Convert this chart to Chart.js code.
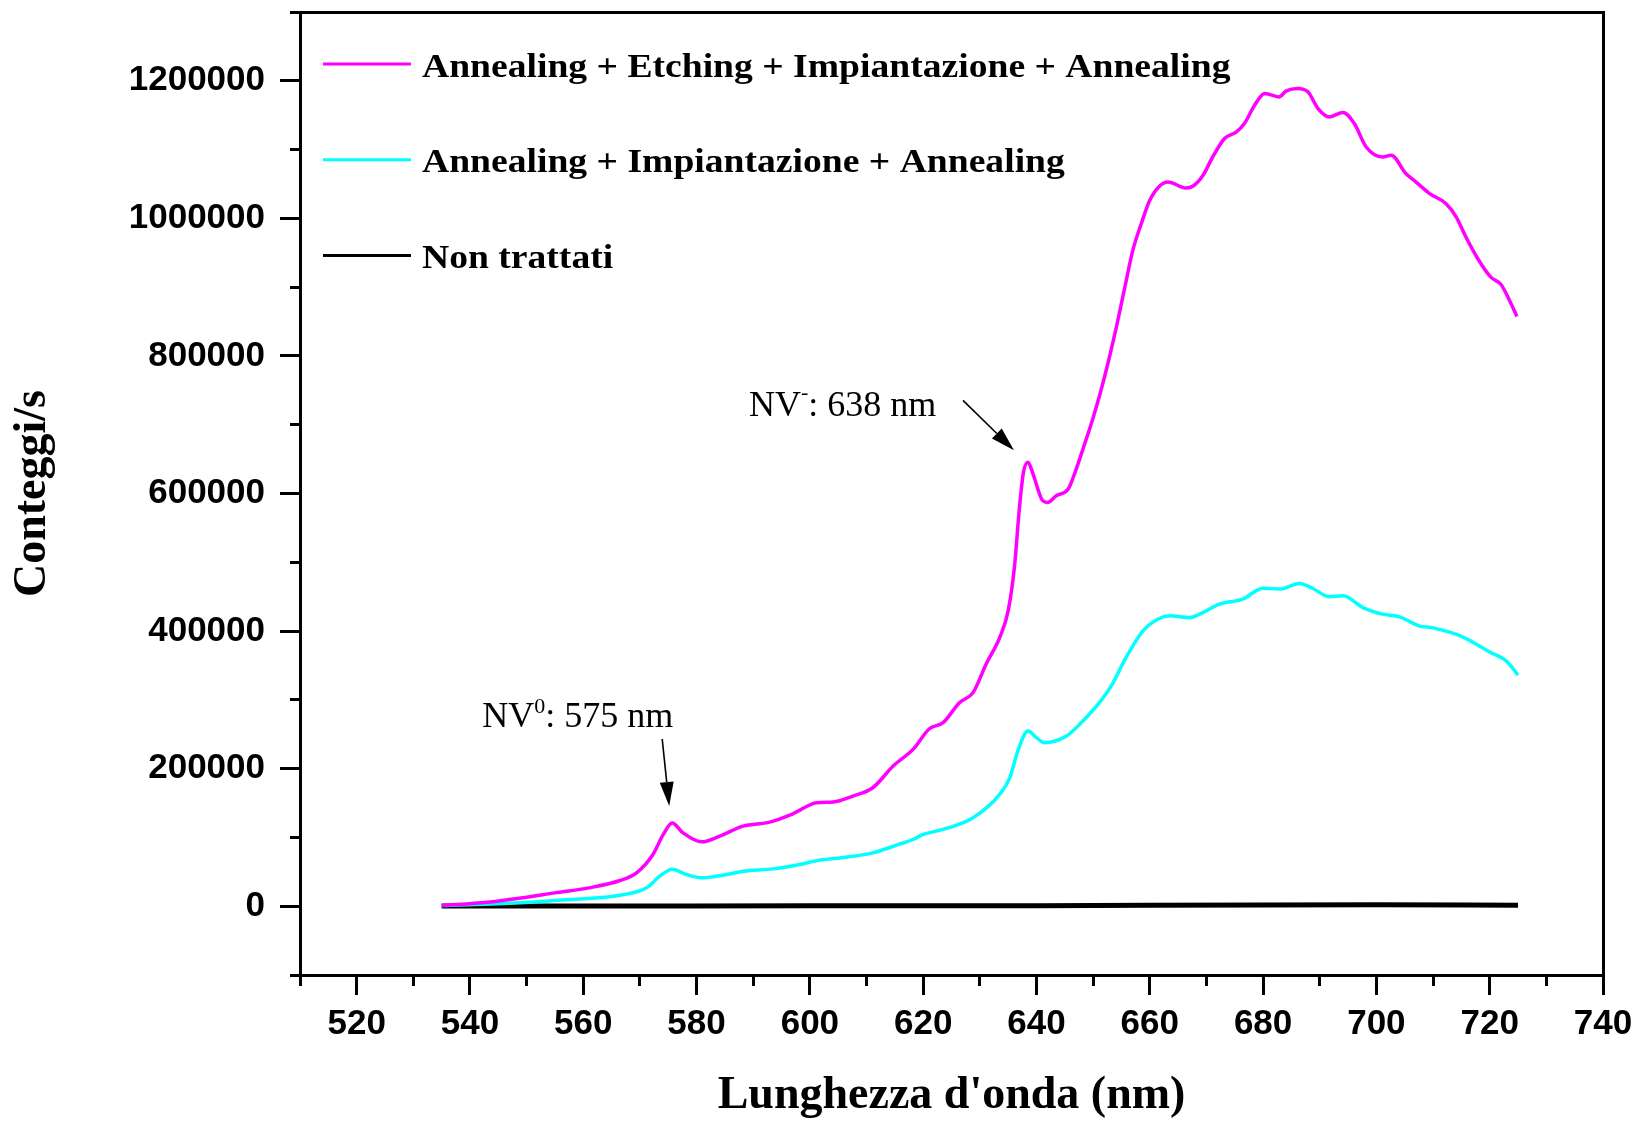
<!DOCTYPE html>
<html>
<head>
<meta charset="utf-8">
<title>Spettro NV</title>
<script src="https://cdn.jsdelivr.net/npm/chart.js@4.4.1/dist/chart.umd.min.js"></script>
<style>
  html, body { margin: 0; padding: 0; background: #fff; }
  canvas { display: block; }
</style>
</head>
<body>
<canvas id="spettro" width="1638" height="1121"></canvas>
<script>
// valori: lunghezza d'onda (nm) -> conteggi/s
var wlEtching = [535, 543, 549, 555, 561, 566.5, 569.4, 572.3, 574.1, 575.7, 577.6, 580.9, 584.1, 588.2,
  592.9, 597, 601.2, 604.1, 607.6, 611.1, 614.7, 618.2, 621.1, 623.5, 626.4, 628.8, 631.1, 633.5, 635,
  636.1, 637, 637.7, 638.5, 639.4, 640.9, 641.9, 643.5, 645.6, 646.7, 648.5, 650, 652, 654.1, 655.6, 657,
  658.5, 660, 661.7, 663.2, 666.4, 667.6, 669.4, 671.1, 673.2, 675.3, 676.7, 678.5, 680.3, 682.8, 684.1,
  686.1, 687.9, 689.7, 691.7, 694.1, 696.1, 698.2, 701.1, 702.6, 705.2, 707, 709.4, 712.3, 714.1, 715.8,
  717.9, 720.2, 722, 723.5, 724.8];
var cntEtching = [1000, 5800, 12000, 19400, 26700, 37400, 48500, 75200, 104000, 121000, 106700, 93600, 101900, 116400,
  122300, 134400, 150400, 151400, 160100, 172200, 203800, 228000, 258000, 266800, 295900, 310500, 351800, 390500, 429400,
  492400, 579800, 630700, 645300, 628300, 592000, 587000, 596800, 606500, 628300, 672000, 710000, 769000, 841800, 900000, 953400,
  992300, 1026200, 1046600, 1052800, 1044100, 1046600, 1062600, 1089200, 1116000, 1125600, 1137800, 1164500, 1181500, 1176600, 1185300,
  1188800, 1183900, 1159700, 1147500, 1153900, 1137800, 1103800, 1089200, 1091700, 1065100, 1052800, 1035900, 1021400, 1001900, 972800,
  941300, 914500, 903900, 880600, 857300];

var wlImpiant = [535, 548.8, 557.6, 566.5, 571.2, 573.5, 575.7, 578.2, 580.9, 585.3, 588.2, 593.5, 598.2, 601.7,
  606.4, 611.1, 615.9, 618.2, 620, 623.5, 628.8, 633.5, 635.3, 636.7, 638.5, 640, 641.4, 645.3, 647.9, 651.1,
  653.2, 655.8, 658.8, 661.4, 663.5, 667, 668.8, 672.3, 676.4, 680, 682.9, 686.4, 688.8, 691.7, 694.1, 697.6,
  701.1, 704.1, 707.5, 710, 715, 720, 723, 725];
var cntImpiant = [1000, 4900, 9700, 16000, 26700, 43700, 53900, 46100, 41200, 46100, 50900, 54300, 60700, 67000,
  71300, 77600, 90500, 97000, 104400, 111600, 128600, 162600, 186800, 225600, 254700, 245000, 237700, 247500, 266800, 295900,
  320200, 361400, 400300, 417300, 422100, 419700, 424600, 439200, 446400, 462400, 461000, 469100, 461900, 449800, 451200, 434200,
  424600, 420700, 407600, 404600, 392400, 369600, 355900, 336100];

var wlNonTratt = [535, 560, 600, 640, 660, 700, 725];
var cntNonTratt = [200, 300, 500, 800, 1500, 2000, 1500];

var seriesLabels = [
  'Annealing + Etching + Impiantazione + Annealing',
  'Annealing + Impiantazione + Annealing',
  'Non trattati'
];
var seriesColors = ['#ff00ff', '#00ffff', '#000000'];

var xTickLabels = [520, 540, 560, 580, 600, 620, 640, 660, 680, 700, 720, 740];
var yTickLabels = [0, 200000, 400000, 600000, 800000, 1000000, 1200000];

// picchi indicati dalle frecce
var picchi = [
  { x: 575.7, y: 121000, apice: '0', resto: ': 575 nm', testo: [-190, -96], coda: [-10, -84], punta: [-3, -17] },
  { x: 638.5, y: 645300, apice: '-', resto: ': 638 nm', testo: [-279, -46], coda: [-65, -62], punta: [-14, -12] }
];

function coppie(xs, ys) {
  return xs.map(function(x, i) { return { x: x, y: ys[i] }; });
}

function freccia(ctx, x1, y1, x2, y2) {
  var a = Math.atan2(y2 - y1, x2 - x1);
  var len = 24, half = 7;
  var bx = x2 - len * Math.cos(a), by = y2 - len * Math.sin(a);
  ctx.beginPath();
  ctx.moveTo(x1, y1);
  ctx.lineTo(bx, by);
  ctx.stroke();
  ctx.beginPath();
  ctx.moveTo(x2, y2);
  ctx.lineTo(bx + half * Math.sin(a), by - half * Math.cos(a));
  ctx.lineTo(bx - half * Math.sin(a), by + half * Math.cos(a));
  ctx.closePath();
  ctx.fill();
}

var decorazioni = {
  id: 'decorazioni',
  afterDraw: function(chart) {
    var ctx = chart.ctx, area = chart.chartArea;
    var xs = chart.scales.x, ys = chart.scales.y;
    ctx.save();

    // legenda dentro l'area del grafico
    chart.data.datasets.forEach(function(ds, i) {
      var yy = area.top + 52 + i * 95.7;
      ctx.strokeStyle = ds.borderColor;
      ctx.lineWidth = 3;
      ctx.beginPath();
      ctx.moveTo(323, yy);
      ctx.lineTo(411, yy);
      ctx.stroke();
      ctx.save();
      ctx.translate(422, yy + 12.5);
      ctx.scale(1.14, 1);
      ctx.fillStyle = '#000';
      ctx.font = 'bold 33px "Liberation Serif", "Times New Roman", serif';
      ctx.textAlign = 'left';
      ctx.textBaseline = 'alphabetic';
      ctx.fillText(ds.label, 0, 0);
      ctx.restore();
    });

    // annotazioni sui picchi NV
    ctx.fillStyle = '#000';
    ctx.strokeStyle = '#000';
    ctx.lineWidth = 1.6;
    picchi.forEach(function(p) {
      var px = xs.getPixelForValue(p.x), py = ys.getPixelForValue(p.y);
      freccia(ctx, px + p.coda[0], py + p.coda[1], px + p.punta[0], py + p.punta[1]);
      var tx = px + p.testo[0], ty = py + p.testo[1];
      ctx.textAlign = 'left';
      ctx.textBaseline = 'alphabetic';
      ctx.font = '36px "Liberation Serif", "Times New Roman", serif';
      ctx.fillText('NV', tx, ty);
      var w = ctx.measureText('NV').width;
      ctx.font = '22px "Liberation Serif", "Times New Roman", serif';
      ctx.fillText(p.apice, tx + w, ty - (p.apice === '-' ? 17 : 14));
      var w2 = ctx.measureText(p.apice).width;
      ctx.font = '36px "Liberation Serif", "Times New Roman", serif';
      ctx.fillText(p.resto, tx + w + w2, ty);
    });
    ctx.restore();
  }
};

function azzeraPadding(s) {
  s.paddingLeft = 0; s.paddingRight = 0; s.paddingTop = 0; s.paddingBottom = 0;
}

var sansBold = { family: '"Liberation Sans", Arial, sans-serif', weight: 'bold' };
var serifBold = { family: '"Liberation Serif", "Times New Roman", serif', weight: 'bold', size: 46, lineHeight: 1 };

Chart.defaults.color = '#000';

var ctx = document.getElementById('spettro').getContext('2d');
var chart = new Chart(ctx, {
  type: 'line',
  data: {
    datasets: [
      { label: seriesLabels[0], data: coppie(wlEtching, cntEtching), borderColor: seriesColors[0], borderWidth: 3.5 },
      { label: seriesLabels[1], data: coppie(wlImpiant, cntImpiant), borderColor: seriesColors[1], borderWidth: 3.5 },
      { label: seriesLabels[2], data: coppie(wlNonTratt, cntNonTratt), borderColor: seriesColors[2], borderWidth: 5 }
    ]
  },
  options: {
    responsive: false,
    animation: false,
    layout: { padding: { top: 12, right: 35, bottom: 0, left: 0 } },
    elements: {
      point: { radius: 0 },
      line: { fill: false, cubicInterpolationMode: 'monotone' }
    },
    plugins: {
      legend: { display: false },
      tooltip: { enabled: false }
    },
    scales: {
      x: {
        type: 'linear', position: 'bottom', weight: 10, min: 510, max: 740,
        ticks: {
          stepSize: 10, autoSkip: false, maxRotation: 0, minRotation: 0, padding: 8, color: '#000',
          font: Object.assign({ size: 35 }, sansBold),
          callback: function(v) { return xTickLabels.indexOf(v) >= 0 ? String(v) : ''; }
        },
        grid: {
          drawOnChartArea: false, tickLength: 20, tickWidth: 3,
          tickColor: function(c) { return c.tick && xTickLabels.indexOf(c.tick.value) >= 0 ? '#000' : 'rgba(0,0,0,0)'; }
        },
        border: { display: true, width: 3, color: '#000' },
        title: { display: true, text: "Lunghezza d'onda (nm)", color: '#000', font: serifBold, padding: { top: 0, bottom: 2 } },
        afterFit: function(s) { s.height = 146; azzeraPadding(s); }
      },
      xMinor: {
        type: 'linear', position: 'bottom', weight: 0, min: 510, max: 740,
        ticks: { display: false, stepSize: 10 },
        grid: { drawOnChartArea: false, tickLength: 11, tickWidth: 3, tickColor: '#000' },
        border: { display: false },
        afterFit: function(s) { s.height = 0; azzeraPadding(s); }
      },
      xTop: {
        type: 'linear', position: 'top', min: 510, max: 740,
        ticks: { display: false },
        grid: { display: false, drawTicks: false },
        border: { display: true, width: 3, color: '#000' },
        afterFit: function(s) { s.height = 0; azzeraPadding(s); }
      },
      y: {
        type: 'linear', position: 'left', weight: 10, min: -100000, max: 1300000,
        ticks: {
          stepSize: 100000, autoSkip: false, padding: 15, color: '#000',
          font: Object.assign({ size: 35 }, sansBold),
          callback: function(v) { return yTickLabels.indexOf(v) >= 0 ? String(v) : ''; }
        },
        grid: {
          drawOnChartArea: false, tickLength: 20, tickWidth: 3,
          tickColor: function(c) { return c.tick && yTickLabels.indexOf(c.tick.value) >= 0 ? '#000' : 'rgba(0,0,0,0)'; }
        },
        border: { display: true, width: 3, color: '#000' },
        title: { display: true, text: 'Conteggi/s', color: '#000', font: serifBold, padding: { top: 10, bottom: 0 } },
        afterFit: function(s) { s.width = 300; azzeraPadding(s); }
      },
      yMinor: {
        type: 'linear', position: 'left', weight: 0, min: -100000, max: 1300000,
        ticks: { display: false, stepSize: 100000 },
        grid: { drawOnChartArea: false, tickLength: 10, tickWidth: 3, tickColor: '#000' },
        border: { display: false },
        afterFit: function(s) { s.width = 0; azzeraPadding(s); }
      },
      yRight: {
        type: 'linear', position: 'right', min: -100000, max: 1300000,
        ticks: { display: false },
        grid: { display: false, drawTicks: false },
        border: { display: true, width: 3, color: '#000' },
        afterFit: function(s) { s.width = 0; azzeraPadding(s); }
      }
    }
  },
  plugins: [decorazioni]
});
</script>
</body>
</html>
